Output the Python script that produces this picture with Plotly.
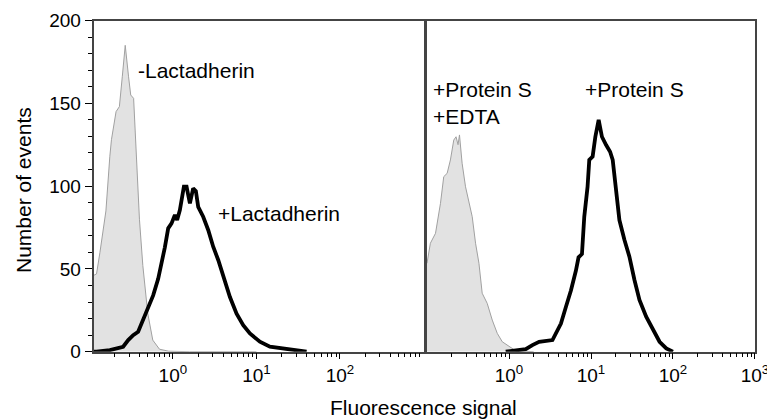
import math
import plotly.graph_objects as go

# ---- data (fluorescence value, number of events) ----
neg_lact_x = [0.112, 0.122, 0.134, 0.148, 0.158, 0.176, 0.184, 0.209, 0.229, 0.248, 0.269,
              0.295, 0.313, 0.339, 0.363, 0.398, 0.437, 0.501, 0.575, 0.692, 0.891, 1.585, 10.0]
neg_lact_y = [46, 47, 60, 75, 85, 118, 128, 145, 148, 166, 185,
              166, 155, 153, 118, 80, 52, 23, 7, 1.5, 0.3, 0, 0]

pos_lact_x = [0.112, 0.122, 0.176, 0.254, 0.292, 0.335, 0.384, 0.441, 0.506, 0.581, 0.667,
              0.733, 0.802, 0.879, 0.964, 1.057, 1.125, 1.213, 1.355, 1.459, 1.599, 1.750,
              1.885, 2.01, 2.307, 2.648, 3.04, 3.49, 4.0, 4.82, 5.79, 6.95, 8.36, 11.0,
              14.5, 20.9, 30.3, 39.9]
pos_lact_y = [0, 0, 1, 3, 7, 10, 12, 19, 27, 34, 44,
              53, 63, 74.5, 77.5, 82.5, 79.5, 85.5, 99.6, 99.6, 89.6, 98.6,
              97, 87.5, 81.5, 73.5, 63.4, 55.4, 45.3, 33, 23, 16, 11, 6,
              3, 2, 1, 0]

edta_x = [0.1, 0.110, 0.127, 0.146, 0.160, 0.176, 0.193, 0.212, 0.226, 0.239, 0.249,
          0.268, 0.295, 0.324, 0.356, 0.391, 0.430, 0.471, 0.542, 0.625, 0.719, 0.828,
          1.0, 1.21, 2.0]
edta_y = [53.4, 65.5, 71.5, 89.6, 105.7, 107.7, 115.8, 127.8, 129.8, 125, 130.9,
          113.8, 99.6, 89.6, 81.5, 65.5, 53.4, 35.3, 29.2, 19.1, 11.1, 6,
          3, 0.5, 0]

prots_x = [0.912, 1.60, 1.93, 2.33, 3.39, 3.73, 4.30, 4.94, 5.69, 6.55, 7.05, 7.76,
           8.28, 9.08, 9.53, 10.47, 11.3, 12.4, 13.6, 15.3, 17.1, 18.4, 20.2, 22.2,
           25.6, 29.4, 33.9, 39.0, 47.1, 56.8, 68.6, 82.8, 99.8]
prots_y = [0, 1.5, 4, 6, 7, 11, 17, 27, 37, 49, 57, 59,
           81.5, 99.6, 115.8, 117.8, 129.8, 140, 129.8, 124.8, 120.8, 115.8, 97.6, 79.5,
           67.5, 57.4, 43.3, 31.2, 21.1, 13.1, 6, 2, 0]

major_ticks_left = [1, 10, 100]
major_ticks_right = [1, 10, 100, 1000]
major_text_left = ["10<sup>0</sup>", "10<sup>1</sup>", "10<sup>2</sup>"]
major_text_right = ["10<sup>0</sup>", "10<sup>1</sup>", "10<sup>2</sup>", "10<sup>3</sup>"]
minor_ticks = [m * 10 ** e for e in (-1, 0, 1, 2) for m in range(2, 10)]
y_ticks = [0, 50, 100, 150, 200]

# curve labels: text, x-axis, y-axis, fluorescence (left edge), events (middle)
label_text = ["-Lactadherin", "+Lactadherin", "+Protein S<br>+EDTA", "+Protein S"]
label_axes = [("x", "y"), ("x", "y"), ("x2", "y2"), ("x2", "y2")]
label_x = [0.367, 3.34, 0.115, 8.28]
label_y = [170, 83.6, 150, 158.5]

FONT = "Arial, Liberation Sans, sans-serif"
GRAY_LINE = "#a0a0a0"
GRAY_FILL = "#e2e2e2"
AXC = "#444444"
W, H = 767, 419

fig = go.Figure()
fig.add_trace(go.Scatter(x=neg_lact_x, y=neg_lact_y, mode="lines", fill="tozeroy",
                         fillcolor=GRAY_FILL, line=dict(color=GRAY_LINE, width=1),
                         xaxis="x", yaxis="y", showlegend=False))
fig.add_trace(go.Scatter(x=pos_lact_x, y=pos_lact_y, mode="lines",
                         line=dict(color="black", width=3.8),
                         xaxis="x", yaxis="y", showlegend=False))
fig.add_trace(go.Scatter(x=edta_x, y=edta_y, mode="lines", fill="tozeroy",
                         fillcolor=GRAY_FILL, line=dict(color=GRAY_LINE, width=1),
                         xaxis="x2", yaxis="y2", showlegend=False))
fig.add_trace(go.Scatter(x=prots_x, y=prots_y, mode="lines",
                         line=dict(color="black", width=3.8),
                         xaxis="x2", yaxis="y2", showlegend=False))

xcommon = dict(type="log", showgrid=False, zeroline=False, showline=True, linecolor=AXC,
               linewidth=1.5, mirror=True, ticks="outside", ticklen=6, tickwidth=1.2,
               tickcolor="black", tickmode="array", automargin=False,
               ticklabeloverflow="allow",
               tickfont=dict(family=FONT, size=19, color="black"),
               minor=dict(tickmode="array", tickvals=minor_ticks, ticks="outside",
                          ticklen=4, tickwidth=1, tickcolor="black", showgrid=False))

fig.update_layout(
    template="none",
    width=W, height=H, autosize=False,
    margin=dict(l=0, r=0, t=0, b=0, pad=0),
    paper_bgcolor="white", plot_bgcolor="white",
    xaxis=dict(domain=[93.5 / W, 423.5 / W], range=[-0.95, 3],
               tickvals=major_ticks_left, ticktext=major_text_left, anchor="y", **xcommon),
    xaxis2=dict(domain=[427 / W, 755 / W], range=[-1.0, 3.0001],
                tickvals=major_ticks_right, ticktext=major_text_right, anchor="y2", **xcommon),
    yaxis=dict(domain=[1 - 351.7 / H, 1 - 20.5 / H], range=[0, 200], anchor="x",
               showgrid=False, zeroline=False, showline=True, linecolor=AXC, linewidth=1.5,
               mirror=True, ticks="outside", ticklen=7, tickwidth=1.2, tickcolor="black",
               tickmode="array", tickvals=y_ticks, automargin=False,
               tickfont=dict(family=FONT, size=19, color="black"),
               minor=dict(dtick=10, ticks="outside", ticklen=4, tickwidth=1,
                          tickcolor="black", showgrid=False)),
    yaxis2=dict(domain=[1 - 351.7 / H, 1 - 20.5 / H], range=[0, 200], anchor="x2",
                showgrid=False, zeroline=False, showline=True, linecolor=AXC, linewidth=1.5,
                mirror=True, ticks="", showticklabels=False, automargin=False),
    font=dict(family=FONT, size=21, color="black"),
    showlegend=False,
)

for txt, (xr, yr), xv, yv in zip(label_text, label_axes, label_x, label_y):
    fig.add_annotation(text=txt, x=math.log10(xv), y=yv, xref=xr, yref=yr,
                       xanchor="left", yanchor="middle", showarrow=False, align="left",
                       borderpad=0, font=dict(family=FONT, size=21, color="black"))

fig.add_annotation(text="Number of events", x=23 / W, y=1 - 190 / H, xref="paper",
                   yref="paper", textangle=-90, showarrow=False, borderpad=0,
                   xanchor="center", yanchor="middle",
                   font=dict(family=FONT, size=21, color="black"))
fig.add_annotation(text="Fluorescence signal", x=423.5 / W, y=1 - 407 / H, xref="paper",
                   yref="paper", showarrow=False, borderpad=0,
                   xanchor="center", yanchor="middle",
                   font=dict(family=FONT, size=21, color="black"))

fig.write_html("out.html", config={"displayModeBar": False},
               post_script="document.body.style.margin='0px';document.body.style.padding='0px';")
